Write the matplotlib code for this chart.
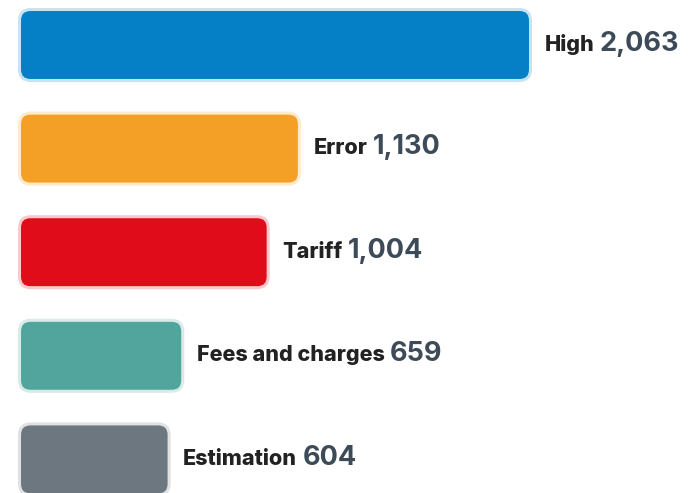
import numpy as np
import matplotlib
matplotlib.use("Agg")
import matplotlib.pyplot as plt
from matplotlib.patches import FancyBboxPatch
from matplotlib.colors import to_rgb

categories = ["High", "Error", "Tariff", "Fees and charges", "Estimation"]
values = [2063, 1130, 1004, 659, 604]
colors = ["#057fc5", "#f4a026", "#e00c1a", "#52a59c", "#6c7780"]

W, H = 693, 493
fig = plt.figure(figsize=(W / 100, H / 100), dpi=100)
ax = fig.add_axes([0, 0, 1, 1])
ax.axis("off")

# pixel geometry of the reference
x0_px, xmax_px = 19.5, 530.5      # bar start, end of the longest bar (stroke centre)
px_per_unit = (xmax_px - x0_px) / max(values)
ax.set_xlim(-x0_px / px_per_unit, (W - x0_px) / px_per_unit)
first_c, pitch = 45, 103.6
ax.set_ylim((H - first_c) / pitch, -first_c / pitch)

bar_h = 71 / pitch
radius = 11 / px_per_unit
aspect = (1 / pitch) / (1 / px_per_unit)


def lighten(c, f=0.78):
    r = np.array(to_rgb(c))
    return tuple(r + (1 - r) * f)


for i, (cat, v, c) in enumerate(zip(categories, values, colors)):
    p = FancyBboxPatch((0, i - bar_h / 2), v, bar_h,
                       boxstyle=f"round,pad=0,rounding_size={radius}",
                       mutation_aspect=aspect,
                       fc=c, ec=lighten(c), lw=2.2)
    ax.add_patch(p)
    ty = i + 5.5 / pitch
    t = ax.text(v + 14 / px_per_unit, ty, cat, fontsize=15.5, family="Inter",
                weight=800, color="#222222", va="baseline", ha="left")
    ax.annotate(f"{v:,}", xy=(1, ty), xycoords=(t, "data"),
                xytext=(4, 0), textcoords="offset points",
                fontsize=19.5, family="Inter", weight="bold",
                color="#3d4a58", va="baseline", ha="left")

fig.savefig("out.png", dpi=100)
